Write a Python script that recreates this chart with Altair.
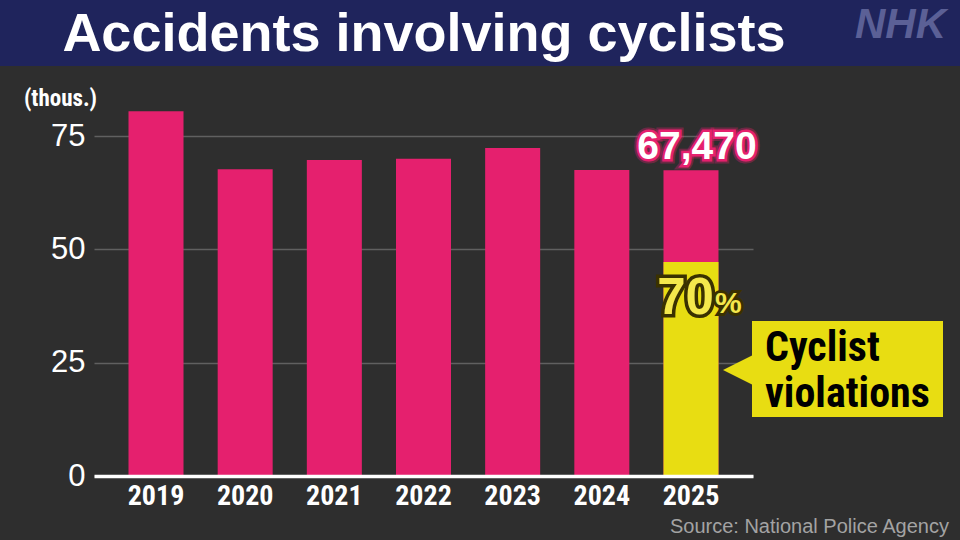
import altair as alt
import pandas as pd

# ---------------- data ----------------
years = ["2019", "2020", "2021", "2022", "2023", "2024", "2025"]
accidents_thous = [80.47, 67.67, 69.69, 69.99, 72.34, 67.53, 67.47]
violation_years = ["2025"]
violation_thous = [47.2]
total_label = "67,470"
share_number = "70"
share_sign = "%"
callout_lines = ["Cyclist", "violations"]
title_text = "Accidents involving cyclists"
logo_text = "NHK"
source_text = "Source: National Police Agency"
y_ticks = [0, 25, 50, 75]

# ---------------- styles ----------------
BG = "#2e2e2e"
NAVY = "#1f245c"
PINK = "#e5206e"
YELLOW = "#e8dd12"
NARROW = "Liberation Sans Narrow, Roboto Condensed, Noto Sans Condensed, Liberation Sans, sans-serif"
SANS = "Liberation Sans, Arial, Helvetica, sans-serif"

W, H = 659, 366
LEFT, TOP = 94, 110
YMAX = 80.74

df = pd.DataFrame({"year": years, "value": accidents_thous})
dv = pd.DataFrame({"year": violation_years, "value": violation_thous})
dl = pd.DataFrame({"year": [years[-1]], "value": [accidents_thous[-1]], "label": [total_label]})
ds = pd.DataFrame({"year": violation_years, "value": violation_thous,
                   "num": [share_number], "pct": [share_sign]})
one = pd.DataFrame({"k": [0]})

x_scale = alt.Scale(paddingInner=0.383, paddingOuter=0.387)
y_scale = alt.Scale(domain=[0, YMAX], nice=False, zero=True)

x_enc = alt.X("year:N", scale=x_scale, sort=years,
              axis=alt.Axis(title=None, labelAngle=0, ticks=False,
                            labelFont=NARROW, labelFontWeight="bold",
                            labelFontSize=28, labelColor="white",
                            labelPadding=6, domainColor="white",
                            domainWidth=3.5, zindex=1))
y_enc = alt.Y("value:Q", scale=y_scale,
              axis=alt.Axis(values=y_ticks, title="(thous.)", titleAngle=0,
                            titleAlign="center", titleBaseline="alphabetic",
                            titleX=-34, titleY=-5, titleFont=NARROW,
                            titleFontWeight="bold", titleFontSize=23,
                            titleColor="white", labelFont=SANS,
                            labelFontSize=31, labelColor="white",
                            labelPadding=9, ticks=False, domain=False,
                            grid=True, gridColor="#606060", gridWidth=1.5))

bars = alt.Chart(df).mark_bar(color=PINK).encode(x=x_enc, y=y_enc)
vbars = alt.Chart(dv).mark_bar(color=YELLOW).encode(
    x=alt.X("year:N", scale=x_scale, sort=years),
    y=alt.Y("value:Q", scale=y_scale))

# total label with pink glow
lab_base = alt.Chart(dl).encode(
    x=alt.X("year:N", scale=x_scale, sort=years),
    y=alt.Y("value:Q", scale=y_scale), text="label:N")
lab_kw = dict(font=SANS, fontWeight="bold", fontSize=39, align="center",
              baseline="alphabetic", dx=6, dy=-11)
glow1 = lab_base.mark_text(stroke=PINK, strokeWidth=9, strokeOpacity=0.35,
                           fill=PINK, **lab_kw)
glow2 = lab_base.mark_text(stroke=PINK, strokeWidth=5, fill=PINK, **lab_kw)
lab_white = lab_base.mark_text(color="white", **lab_kw)

# share label "70%"
s_base = alt.Chart(ds).encode(
    x=alt.X("year:N", scale=x_scale, sort=years),
    y=alt.Y("value:Q", scale=y_scale))
num_kw = dict(font=SANS, fontWeight="bold", fontSize=51, align="right",
              baseline="alphabetic", dx=23, dy=52)
pct_kw = dict(font=SANS, fontWeight="bold", fontSize=30, align="left",
              baseline="alphabetic", dx=24, dy=51)
OUT = "#3a3100"
num_out = s_base.mark_text(stroke=OUT, strokeWidth=7, fill=OUT, **num_kw).encode(text="num:N")
num_in = s_base.mark_text(color="#f4e84c", **num_kw).encode(text="num:N")
pct_out = s_base.mark_text(stroke=OUT, strokeWidth=6, fill=OUT, **pct_kw).encode(text="pct:N")
pct_in = s_base.mark_text(color="#f4e84c", **pct_kw).encode(text="pct:N")

# callout box
box = alt.Chart(one).mark_rect(color=YELLOW).encode(
    x=alt.value(752 - LEFT), x2=alt.value(943 - LEFT),
    y=alt.value(321 - TOP), y2=alt.value(417 - TOP))
pointer = alt.Chart(one).mark_point(
    shape="M -1 0 L 1 -1 L 1 1 Z", filled=True, size=900, color=YELLOW,
    opacity=1, strokeWidth=0).encode(
    x=alt.value(738 - LEFT), y=alt.value(370 - TOP))
call_txt = alt.Chart(one).mark_text(
    text=callout_lines, font=NARROW, fontWeight="bold", fontSize=42,
    lineHeight=46, align="left", baseline="alphabetic", color="black").encode(
    x=alt.value(765 - LEFT), y=alt.value(361 - TOP))

# title band, title, logo, source
band = alt.Chart(one).mark_rect(color=NAVY).encode(
    x=alt.value(-LEFT), x2=alt.value(960 - LEFT),
    y=alt.value(-TOP), y2=alt.value(66 - TOP))
title = alt.Chart(one).mark_text(
    text=title_text, font=SANS, fontWeight="bold", fontSize=54,
    align="center", baseline="alphabetic", color="white").encode(
    x=alt.value(424 - LEFT), y=alt.value(51 - TOP))
logo = alt.Chart(one).mark_text(
    text=logo_text, font=SANS, fontWeight="bold", fontStyle="italic",
    fontSize=42, align="right", baseline="alphabetic", color="#5b6096").encode(
    x=alt.value(946 - LEFT), y=alt.value(38 - TOP))
source = alt.Chart(one).mark_text(
    text=source_text, font=SANS, fontSize=20, align="right",
    baseline="alphabetic", color="#a3a3a3").encode(
    x=alt.value(949 - LEFT), y=alt.value(533 - TOP))

chart = alt.layer(
    band, title, logo, bars, vbars, glow1, glow2, lab_white,
    box, pointer, call_txt, num_out, num_in, pct_out, pct_in, source
).properties(
    width=W, height=H,
    padding={"left": LEFT, "top": TOP, "right": 960 - LEFT - W, "bottom": 540 - TOP - H},
    autosize=alt.AutoSizeParams(type="none"),
    background=BG,
).configure_view(stroke=None)

chart.save("out.html", embed_options={"renderer": "svg", "actions": False})
